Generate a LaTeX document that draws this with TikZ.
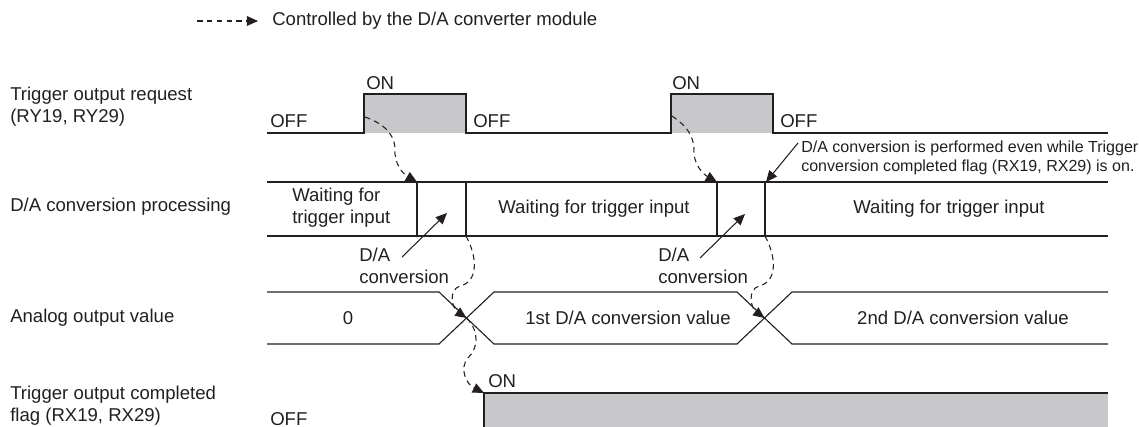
\documentclass[tikz,border=0pt]{standalone}
\usepackage{fontspec}
\setmainfont{Liberation Sans}
\usetikzlibrary{arrows.meta}

\definecolor{ink}{RGB}{35,31,32}
\definecolor{ongray}{RGB}{200,200,202}
\newcommand{\chartfont}{\fontsize{13.2}{15.6}\selectfont}
\newcommand{\notefont}{\fontsize{11.4}{13.5}\selectfont}

\begin{document}
\begin{tikzpicture}[
    x=0.025cm, y=-0.025cm,
    signal/.style={line width=0.8pt, draw=ink},
    ctrl/.style={ink, line width=0.75pt, dash pattern=on 4pt off 3pt, -{Triangle[length=8pt,width=7pt]}},
    pointer/.style={ink, line width=0.75pt, -{Triangle[length=8pt,width=7pt]}},
    every node/.style={font=\chartfont, text=ink, inner sep=0pt},
    rowlabel/.style={anchor=west, align=left}
]


\def\xL{267}    % left end of the time lines
\def\xR{1108}   % right end of the time lines
\def\hiA{94}    % request ON level
\def\loA{133}   % request OFF level
\def\tB{182}    % processing band top
\def\bB{236}    % processing band bottom
\def\tC{292}    % analog band top
\def\bC{344}    % analog band bottom
\def\hiD{393}   % completed flag ON level


\useasboundingbox (0,0) rectangle (1139,427);

% legend
\coordinate (legfrom) at (197,21);
\coordinate (legto) at (258,21);
\draw[ctrl] (legfrom) -- (legto);
\node[anchor=west] (legtext) at (272,21) {Controlled by the D/A converter module};

% row labels
\node[rowlabel] (lblreq) at (10,107) {Trigger output request\\(RY19, RY29)};
\node[rowlabel] (lblproc) at (10,207) {D/A conversion processing};
\node[rowlabel] (lblout) at (10,318) {Analog output value};
\node[rowlabel] (lblflag) at (10,406) {Trigger output completed\\flag (RX19, RX29)};


% trigger output request
\coordinate (req1src) at (365,117);
\coordinate (req2src) at (672,116);
\fill[ongray] (364,\hiA) rectangle (466,\loA);
\fill[ongray] (671,\hiA) rectangle (773,\loA);
\draw[signal] (\xL,\loA) -- (364,\loA) -- (364,\hiA) -- (466,\hiA) -- (466,\loA)
    -- (671,\loA) -- (671,\hiA) -- (773,\hiA) -- (773,\loA) -- (\xR,\loA);

\node[anchor=west] (on1) at (366,83) {ON};
\node[anchor=west] (on2) at (672,83) {ON};
\node[anchor=west] (off1) at (270,121) {OFF};
\node[anchor=west] (off2) at (473,121) {OFF};
\node[anchor=west] (off3) at (780,121) {OFF};


% D/A conversion processing
\coordinate (conv1top) at (417,\tB);
\coordinate (conv1bot) at (466,\bB);
\coordinate (conv2top) at (717,\tB);
\coordinate (conv2note) at (766,\tB);
\coordinate (conv2bot) at (765,\bB);
\draw[signal] (\xL,\tB) -- (\xR,\tB);
\draw[signal] (\xL,\bB) -- (\xR,\bB);
\foreach \x in {417,466,717,765}
    \draw[signal] (\x,\tB) -- (\x,\bB);

\node[rowlabel] (wait1) at (292,208) {Waiting for\\trigger input};
\node (wait2) at (594,209) {Waiting for trigger input};
\node (wait3) at (949,209) {Waiting for trigger input};

\node[rowlabel] (daconv1) at (359,266) {D/A\\conversion};
\node[rowlabel] (daconv2) at (658,266) {D/A\\conversion};
\coordinate (daconv1from) at (402,257);
\coordinate (daconv1to) at (447,213);
\coordinate (daconv2from) at (700,258);
\coordinate (daconv2to) at (745,214);
\draw[pointer] (daconv1from) -- (daconv1to);
\draw[pointer] (daconv2from) -- (daconv2to);

\node[rowlabel, font=\notefont] (note) at (801,157.5)
    {D/A conversion is performed even while Trigger\\conversion completed flag (RX19, RX29) is on.};
\coordinate (notefrom) at (798,143);
\draw[pointer] (notefrom) -- (conv2note);


% analog output value
\coordinate (cross1) at (466.5,318);
\coordinate (cross2) at (764.5,318);
\draw[signal] (\xL,\tC) -- (439,\tC) -- (494,\bC) -- (737,\bC) -- (792,\tC) -- (\xR,\tC);
\draw[signal] (\xL,\bC) -- (439,\bC) -- (494,\tC) -- (737,\tC) -- (792,\bC) -- (\xR,\bC);

\node (val0) at (348,318) {0};
\node (val1) at (628,318) {1st D/A conversion value};
\node (val2) at (963,318) {2nd D/A conversion value};


% trigger output completed flag
\coordinate (flagup) at (484,\hiD);
\fill[ongray] (484,\hiD) rectangle (\xR,427);
\draw[signal] (484,427) -- (flagup) -- (\xR,\hiD);
\node[anchor=west] (on3) at (488,381) {ON};
\node[anchor=west] (off4) at (270,419) {OFF};


% controlled by the module
\draw[ctrl] (req1src) to[out=-20,in=95] (395,148) to[out=-95,in=150] (conv1top);
\draw[ctrl] (req2src) to[out=-35,in=95] (694,148) to[out=-95,in=150] (conv2top);
\draw[ctrl] (conv1bot) .. controls (478,258) and (478,282) .. (460,286)
    .. controls (448,290) and (452,308) .. (cross1);
\draw[ctrl] (conv2bot) .. controls (777,258) and (777,282) .. (759,286)
    .. controls (747,290) and (751,308) .. (cross2);
\draw[ctrl] (cross1) .. controls (480,332) and (478,348) .. (468,358)
    .. controls (459,368) and (466,384) .. (flagup);
\end{tikzpicture}
\end{document}
